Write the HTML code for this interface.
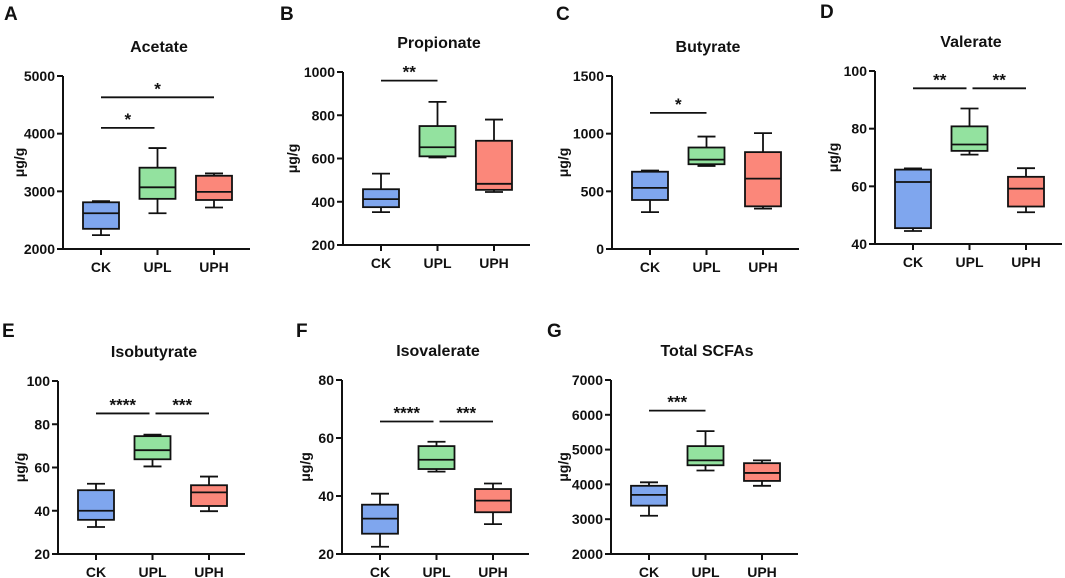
<!DOCTYPE html>
<html><head><meta charset="utf-8">
<style>
body{margin:0;background:#fff;}
svg{display:block;font-family:"Liberation Sans",Arial,sans-serif;}
text{font-weight:bold;fill:#111;}
</style></head>
<body>
<svg id="fig" width="1065" height="578" viewBox="0 0 1065 578" xmlns="http://www.w3.org/2000/svg"></svg>
<script>
const groups = ["CK","UPL","UPH"];
const titles = ["Acetate","Propionate","Butyrate","Valerate","Isobutyrate","Isovalerate","Total SCFAs"];
const letters = ["A","B","C","D","E","F","G"];
const yMins = [2000,200,0,40,20,20,2000];
const yMaxs = [5000,1000,1500,100,100,80,7000];
const yTicks = [[2000,3000,4000,5000],[200,400,600,800,1000],[0,500,1000,1500],[40,60,80,100],[20,40,60,80,100],[20,40,60,80],[2000,3000,4000,5000,6000,7000]];
// [min,q1,median,q3,max] per group
const acetate = [[2240,2350,2620,2810,2830],[2620,2870,3070,3410,3750],[2720,2850,2990,3270,3310]];
const propionate = [[352,375,412,458,530],[605,610,652,750,862],[445,455,483,682,780]];
const butyrate = [[320,425,530,670,680],[720,735,775,880,975],[350,370,610,840,1005]];
const valerate = [[44.5,45.5,61.5,65.8,66.2],[71,72.3,74.5,80.8,87],[51,53,59.2,63.3,66.3]];
const isobutyrate = [[32.5,35.8,40,49.5,52.5],[60.5,63.8,68,74.5,75.2],[39.8,42.2,48.5,51.8,55.8]];
const isovalerate = [[22.5,27,32.2,37,40.8],[48.4,49.3,52.5,57.2,58.7],[30.3,34.4,38.4,42.4,44.3]];
const totalScfas = [[3100,3390,3700,3960,4060],[4400,4550,4690,5100,5530],[3960,4100,4330,4610,4690]];
const seriesAll = [acetate,propionate,butyrate,valerate,isobutyrate,isovalerate,totalScfas];
// significance: [fromGroup,toGroup,yValue,label]
const sigs = [
 [[0,1,4100,"*"],[0,2,4630,"*"]],
 [[0,1,960,"**"]],
 [[0,1,1180,"*"]],
 [[0,1,94,"**"],[1,2,94,"**"]],
 [[0,1,85,"****"],[1,2,85,"***"]],
 [[0,1,65.7,"****"],[1,2,65.7,"***"]],
 [[0,1,6120,"***"]]
];
const layout = [[63,76,249],[343,72,245],[612,76,249],[875,71,244],[58,381,554],[342,380,554],[611,380,554]];
const letterPos = [[4,20],[280,20],[556,20],[820,18],[2,337],[296,337],[547,337]];
const yTitleOff = [-39,-46,-44,-37,-33,-32,-43];
const colors = ["#7fa6ee","#93e29f","#fb877a"];
const NS="http://www.w3.org/2000/svg";
const svg=document.getElementById('fig');
function mk(tag,attrs,parent,txt){const e=document.createElementNS(NS,tag);for(const k in attrs)e.setAttribute(k,attrs[k]);if(txt!==undefined)e.textContent=txt;parent.appendChild(e);return e;}
seriesAll.forEach((data,p)=>{
  const [ax,top,bot]=layout[p];
  const g=mk('g',{},svg);
  
  
  const y=v=>bot-(v-yMins[p])/(yMaxs[p]-yMins[p])*(bot-top);
  const x=i=>ax+38+i*56.5;
  const L=mk('text',{x:letterPos[p][0],y:letterPos[p][1],'font-size':19},g,letters[p]);
  
  
  const T=mk('text',{x:ax+96,y:top-24,'font-size':16,'text-anchor':'middle'},g,titles[p]);
  
  
  const yt=mk('text',{x:0,y:0,'font-size':14,'text-anchor':'middle',transform:`translate(${ax+yTitleOff[p]},${(top+bot)/2}) rotate(-90)`},g,'μg/g');
  
  
  mk('line',{x1:ax,y1:top,x2:ax,y2:bot,stroke:'#111','stroke-width':2},g);
  mk('line',{x1:ax,y1:bot,x2:ax+187,y2:bot,stroke:'#111','stroke-width':2},g);
  yTicks[p].forEach(t=>{
    mk('line',{x1:ax-6,y1:y(t),x2:ax,y2:y(t),stroke:'#111','stroke-width':2},g);
    const tl=mk('text',{x:ax-8,y:y(t)+5,'font-size':14,'text-anchor':'end'},g,t);
    
    
  });
  groups.forEach((gr,i)=>{
    mk('line',{x1:x(i),y1:bot,x2:x(i),y2:bot+6,stroke:'#111','stroke-width':2},g);
    const xl=mk('text',{x:x(i),y:bot+23,'font-size':14,'text-anchor':'middle'},g,gr);
    
    
    const [mn,q1,md,q3,mx]=data[i];
    const bg=mk('g',{},g);
    
    
    const st={stroke:'#111','stroke-width':1.8};
    mk('line',Object.assign({x1:x(i),y1:y(mx),x2:x(i),y2:y(q3)},st),bg);
    mk('line',Object.assign({x1:x(i),y1:y(q1),x2:x(i),y2:y(mn)},st),bg);
    mk('line',Object.assign({x1:x(i)-9,y1:y(mx),x2:x(i)+9,y2:y(mx)},st),bg);
    mk('line',Object.assign({x1:x(i)-9,y1:y(mn),x2:x(i)+9,y2:y(mn)},st),bg);
    mk('rect',Object.assign({x:x(i)-18,y:y(q3),width:36,height:y(q1)-y(q3),fill:colors[i]},st),bg);
    mk('line',Object.assign({x1:x(i)-18,y1:y(md),x2:x(i)+18,y2:y(md)},st),bg);
  });
  sigs[p].forEach(([a,b,v,lab])=>{
    const sg=mk('g',{},g);
    
    
    const gap=(sigs[p].length>1 && b-a===1)?3:0;
    const x1=x(a)+(a>0?gap:0), x2=x(b)-(b<2?gap:0);
    mk('line',{x1:x1,y1:y(v),x2:x2,y2:y(v),stroke:'#111','stroke-width':1.8},sg);
    mk('text',{x:(x1+x2)/2,y:y(v)-3,'font-size':17,'text-anchor':'middle'},sg,lab);
  });
});
</script>
</body></html>
